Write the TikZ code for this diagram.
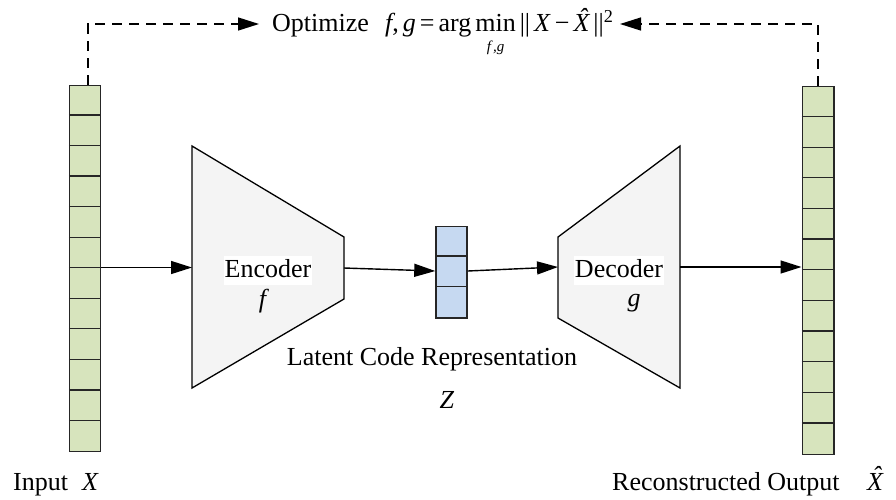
\documentclass[tikz,border=0pt]{standalone}
\usepackage{fontspec}
\setmainfont{Liberation Serif}
\usetikzlibrary{arrows.meta}
\definecolor{cellgreen}{HTML}{D7E4BD}
\definecolor{latblue}{HTML}{C6D9F1}
\definecolor{trapgray}{HTML}{F4F4F4}
\newcommand{\minsub}{\begin{tabular}[t]{@{}c@{}}min\\[-11pt]{\fontsize{15}{15}\selectfont\itshape f\kern2pt,g}\end{tabular}}
\newcommand{\xhat}{{\itshape\accent"02C6 X}}
\newcommand{\sk}{\kern4pt}
\begin{document}
\begin{tikzpicture}[x=1pt,y=-1pt,
  lbl/.style={font=\fontsize{26}{31}\selectfont, inner sep=0pt},
  arr/.style={line width=1.4pt,-{Triangle[length=21pt,width=13pt]}},
  dsh/.style={line width=1.4pt,dash pattern=on 10pt off 7pt,-{Triangle[length=21pt,width=13pt]}},
  vec/.style={draw=black!85,line width=1.5pt,inner sep=0pt,minimum width=31pt},
  cellline/.style={draw=black!85,line width=1.3pt},
  trap/.style={draw=black,line width=1.3pt,fill=trapgray,line join=miter}]
\useasboundingbox (0,0) rectangle (896,499);

% input / output vectors
\node[vec,fill=cellgreen,minimum height=366.4pt] (inL) at (85,268.5) {};
\foreach \i in {1,...,11}
  \draw[cellline] ([yshift=-\i*30.53pt]inL.north west) -- ([yshift=-\i*30.53pt]inL.north east);
\node[vec,fill=cellgreen,minimum height=367.6pt,minimum width=31.5pt] (outR) at (818,270.5) {};
\foreach \i in {1,...,11}
  \draw[cellline] ([yshift=-\i*30.63pt]outR.north west) -- ([yshift=-\i*30.63pt]outR.north east);

% latent vector
\node[vec,fill=latblue,minimum height=91.5pt] (lat) at (451.5,272) {};
\foreach \i in {1,2}
  \draw[cellline] ([yshift=-\i*30.5pt]lat.north west) -- ([yshift=-\i*30.5pt]lat.north east);

% encoder / decoder
\draw[trap] (192,146) -- (344,237) -- (344,299) -- (192,388) -- cycle;
\coordinate (encL) at (192,267.5);
\coordinate (encR) at (344,268);
\draw[trap] (558,237) -- (680,146) -- (680,388) -- (558,318) -- cycle;
\coordinate (decL) at (558,267);
\coordinate (decR) at (680,267);

\node[lbl,fill=white,inner sep=1pt,text height=20pt,text depth=7pt,anchor=base] (enc) at (268,277) {Encoder};
\node[lbl,anchor=base] (ef) at (264,307) {\textit{f}};
\node[lbl,fill=white,inner sep=1pt,text height=20pt,text depth=7pt,anchor=base] (dec) at (619,277) {Decoder};
\node[lbl,anchor=base] (dg) at (634,306) {\textit{g}};

\node[lbl,anchor=base] (latlbl) at (432,365) {Latent Code Representation};
\node[lbl,anchor=base] (latz) at (447,408) {\textit{Z}};

% arrows
\draw[arr] (inL.east |- encL) -- (encL);
\draw[arr] (encR) -- ([yshift=1pt]lat.west);
\draw[arr] ([yshift=1pt]lat.east) -- (decL);
\draw[arr] (decR) -- (outR.west |- decR);

% optimisation loop
\coordinate (tL) at (88,24);
\coordinate (tR) at (818,24);
\coordinate (topA) at (259,24);
\coordinate (topB) at (620,24);
\draw[dsh] (tL |- inL.north) -- (tL) -- (topA);
\draw[dsh] (tR |- outR.north) -- (tR) -- (topB);

\node[lbl,anchor=base west] (opt) at (272,31.5) {Optimize};
\node[lbl,anchor=base west] (form) at (385,31.5) {\textit{f},\sk\textit{g}\sk=\sk arg\sk\minsub\sk||\sk\textit{X}\sk−\sk\xhat\sk||\textsuperscript{2}};

% bottom labels
\node[lbl,anchor=base west] (inlbl) at (13,490) {Input};
\node[lbl,anchor=base west] (inX) at (82,490) {\textit{X}};
\node[lbl,anchor=base west] (outlbl) at (612,490) {Reconstructed Output};
\node[lbl,anchor=base west] (outX) at (867,490) {\xhat};
\end{tikzpicture}
\end{document}
